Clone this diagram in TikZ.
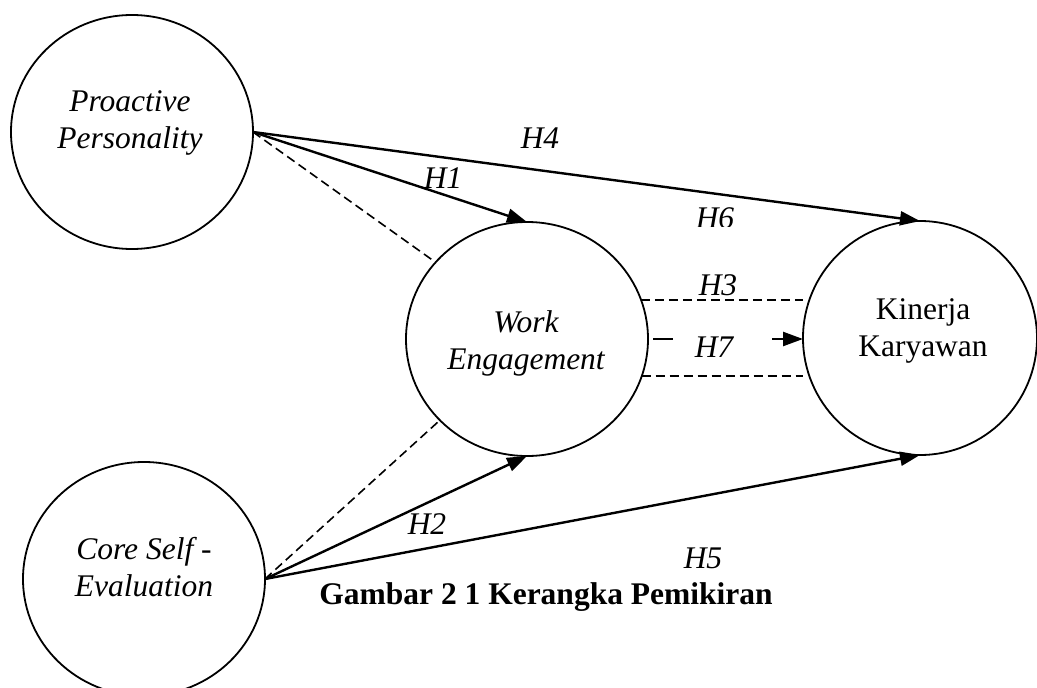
\documentclass[tikz,border=0pt]{standalone}
\usepackage{fontspec}
\setmainfont{Liberation Serif}
\usetikzlibrary{shapes.geometric,arrows.meta,calc}
\tikzset{
  ell/.style={draw, ellipse, line width=1.8pt, minimum width=242pt, minimum height=234pt, inner sep=0pt, outer sep=0pt},
  arr/.style={line width=2.4pt, -{Triangle[length=20pt,width=14pt]}},
  dsh/.style={line width=1.6pt, dash pattern=on 9pt off 5pt},
  txt/.style={font=\fontsize{31.5}{37}\selectfont\itshape, align=center, inner sep=0pt},
  lbl/.style={font=\fontsize{31.5}{37}\selectfont\itshape, anchor=base, inner sep=0pt},
  captionstyle/.style={font=\fontsize{31.5}{37}\selectfont\bfseries, anchor=base, inner sep=0pt}
}
\begin{document}
\begin{tikzpicture}[x=1pt,y=-1pt]
\useasboundingbox (0,0) rectangle (1037,688);
% circles
\node[ell] (pp) at (132,132) {};
\node[ell] (we) at (527,339) {};
\node[ell, minimum width=234pt] (kin) at (920,338) {};
\node[ell] (cse) at (144,579) {};
% texts inside
\node[txt] (pptxt) at (130,123) {Proactive\\Personality};
\node[txt] (wetxt) at (526,343) {Work\\Engagement};
\node[txt, font=\fontsize{31.5}{37}\selectfont] (kintxt) at (923,331) {Kinerja\\Karyawan};
\node[txt] (csetxt) at (144,567) {Core Self -\\Evaluation};
% connectors
\draw[arr] (pp.east) -- (kin.north);
\draw[arr] (pp.east) -- (we.north);
\draw[dsh] (pp.east) -- (we.140);
\draw[arr] (cse.east) -- (we.south);
\draw[arr] (cse.east) -- (kin.south);
\draw[dsh] (cse.east) -- (we.223);
\draw[dsh] (we.19) -- (we.19 -| kin.west);
\draw[dsh] (we.-18) -- (we.-18 -| kin.west);
\draw[arr, dash pattern=on 20pt off 99pt on 300pt] ($(we.east)+(5,0)$) -- (we.east -| kin.west);
% labels
\node[lbl] (h4) at (540,148) {H4};
\node[lbl] (h1) at (443,188) {H1};
\begin{scope}
\clip (650,180) rectangle (780,226);
\node[lbl] (h6) at (715,228) {H6};
\end{scope}
\node[lbl] (h3) at (718,295) {H3};
\node[lbl] (h7) at (714,357) {H7};
\node[lbl] (h2) at (427,534) {H2};
\node[lbl] (h5) at (703,568) {H5};
\node[captionstyle] (caption) at (546,604) {Gambar 2 1 Kerangka Pemikiran};
\end{tikzpicture}
\end{document}
